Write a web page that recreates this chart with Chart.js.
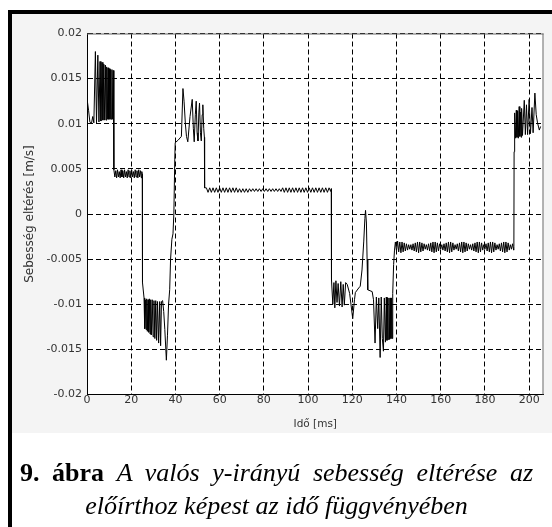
<!DOCTYPE html>
<html>
<head>
<meta charset="utf-8">
<script src="https://cdn.jsdelivr.net/npm/chart.js@4/dist/chart.umd.min.js"></script>
<style>
  html, body { margin: 0; padding: 0; background: #fff; }
  #wrap { position: relative; width: 552px; height: 527px; overflow: hidden; background: #fff; }
  #figbg { position: absolute; left: 12px; top: 14px; width: 540px; height: 419px; background: #f4f4f4; }
  #myChart { position: absolute; left: 0; top: 0; }
  .bar { position: absolute; background: #000; }
  #caption {
    position: absolute; left: 20px; top: 456px; width: 513px;
    font-family: "Liberation Serif", "Times New Roman", serif;
    font-size: 26px; line-height: 33px; color: #000;
  }
  #caption .l1 { display: block; text-align: justify; text-align-last: justify; white-space: normal; }
  #caption .l2 { display: block; text-align: center; white-space: nowrap; }
  #caption i { font-style: italic; }
</style>
</head>
<body>
<div id="wrap">
  <div id="figbg"></div>
  <canvas id="myChart" width="552" height="527"></canvas>
  <div class="bar" style="left:8px;top:10px;width:544px;height:4px;"></div>
  <div class="bar" style="left:8px;top:10px;width:4px;height:517px;"></div>
  <div id="caption"><span class="l1"><b>9. ábra</b> <i>A valós y-irányú sebesség eltérése az</i></span><span class="l2"><i>előírthoz képest az idő függvényében</i></span></div>
</div>
<script>
// time [ms], deviation [m/s], segment by segment
const startBurst = [
  [0.0, 0.0128], [0.7, 0.0115], [1.3, 0.0102], [2.0, 0.0100], [2.6, 0.0108], [3.1, 0.0101],
  [3.8, 0.0180], [4.3, 0.0101], [4.9, 0.0176], [5.4, 0.0102], [5.9, 0.0169], [6.3, 0.0103],
  [6.8, 0.0168], [7.2, 0.0104], [7.6, 0.0166], [8.0, 0.0104], [8.3, 0.0165], [8.6, 0.0104],
  [8.9, 0.0163], [9.2, 0.0105], [9.5, 0.0162], [9.8, 0.0105], [10.1, 0.0161], [10.4, 0.0105],
  [10.7, 0.0160], [11.0, 0.0105], [11.3, 0.0160], [11.6, 0.0105], [11.9, 0.0159], [12.1, 0.0104]
];
const highPlateau = [
  [12.2, 0.0049], [12.6, 0.0041], [13.0, 0.0048], [13.4, 0.0040], [13.8, 0.0049], [14.2, 0.0041],
  [14.6, 0.0047], [15.0, 0.0040], [15.4, 0.0049], [15.8, 0.0041], [16.2, 0.0048], [16.6, 0.0040],
  [17.0, 0.0049], [17.4, 0.0041], [17.8, 0.0047], [18.2, 0.0040], [18.6, 0.0049], [19.0, 0.0041],
  [19.4, 0.0048], [19.8, 0.0040], [20.2, 0.0049], [20.6, 0.0041], [21.0, 0.0047], [21.4, 0.0040],
  [21.8, 0.0049], [22.2, 0.0041], [22.6, 0.0048], [23.0, 0.0040], [23.4, 0.0049], [23.8, 0.0041],
  [24.2, 0.0048], [24.6, 0.0040], [24.8, 0.0047], [25.0, 0.0044]
];
const firstDip = [
  [25.1, -0.0076], [25.8, -0.0093], [26.1, -0.0127], [26.4, -0.0095], [26.7, -0.0128], [27.0, -0.0094],
  [27.3, -0.0130], [27.6, -0.0095], [27.9, -0.0131], [28.2, -0.0094], [28.5, -0.0133], [28.8, -0.0095],
  [29.1, -0.0134], [29.5, -0.0095], [29.9, -0.0136], [30.3, -0.0096], [30.7, -0.0138], [31.1, -0.0096],
  [31.5, -0.0140], [31.9, -0.0097], [32.4, -0.0143], [32.9, -0.0097], [33.3, -0.0146], [33.7, -0.0097],
  [34.2, -0.0096], [34.7, -0.0108], [35.2, -0.0128], [35.9, -0.0162], [36.4, -0.0135], [36.9, -0.0100],
  [37.4, -0.0084], [37.8, -0.0050], [38.4, -0.0028], [38.9, -0.0022], [39.3, 0.0001], [39.7, 0.0060]
];
const secondBurst = [
  [39.9, 0.0079], [41.3, 0.0082], [42.7, 0.0086], [43.4, 0.0139], [43.9, 0.0125], [44.5, 0.0100],
  [45.0, 0.0086], [45.6, 0.0080], [46.6, 0.0108], [47.6, 0.0127], [48.1, 0.0095], [48.5, 0.0080],
  [49.0, 0.0110], [49.4, 0.0125], [49.8, 0.0090], [50.2, 0.0081], [50.6, 0.0112], [50.9, 0.0123],
  [51.3, 0.0090], [51.7, 0.0081], [52.1, 0.0110], [52.4, 0.0121], [52.8, 0.0095], [53.1, 0.0085]
];
const lowPlateau = [
  [53.2, 0.0029], [54.0, 0.0029], [54.75, 0.0024], [55.5, 0.0029], [56.25, 0.0024], [57.0, 0.0029],
  [57.75, 0.0024], [58.5, 0.0029], [59.25, 0.0024], [60.0, 0.0029], [60.75, 0.0024], [61.5, 0.0029],
  [62.25, 0.0024], [63.0, 0.0029], [63.75, 0.0024], [64.5, 0.0029], [65.25, 0.0024], [66.0, 0.0029],
  [66.75, 0.0024], [67.5, 0.0029], [68.25, 0.0024], [69.0, 0.0028], [69.75, 0.0024], [70.5, 0.0028],
  [71.25, 0.0024], [72.0, 0.0028], [72.75, 0.0024], [73.5, 0.0028], [74.25, 0.0025], [75.0, 0.0028],
  [75.75, 0.0025], [76.5, 0.0028], [77.25, 0.0025], [78.0, 0.0028], [78.75, 0.0025], [79.5, 0.0028],
  [80.25, 0.0025], [81.0, 0.0028], [81.75, 0.0025], [82.5, 0.0028], [83.25, 0.0025], [84.0, 0.0028],
  [84.75, 0.0025], [85.5, 0.0028], [86.25, 0.0025], [87.0, 0.0028], [87.75, 0.0025], [88.5, 0.0029],
  [89.25, 0.0024], [90.0, 0.0029], [90.75, 0.0024], [91.5, 0.0029], [92.25, 0.0024], [93.0, 0.0029],
  [93.75, 0.0024], [94.5, 0.0029], [95.25, 0.0024], [96.0, 0.0029], [96.75, 0.0024], [97.5, 0.0029],
  [98.25, 0.0024], [99.0, 0.0029], [99.75, 0.0024], [100.5, 0.0029], [101.25, 0.0024], [102.0, 0.0029],
  [102.75, 0.0024], [103.5, 0.0029], [104.25, 0.0024], [105.0, 0.0029], [105.75, 0.0024], [106.5, 0.0029],
  [107.25, 0.0024], [108.0, 0.0029], [108.75, 0.0024], [109.5, 0.0029], [110.25, 0.0025], [110.5, 0.0028]
];
const secondDip = [
  [110.6, -0.0073], [111.2, -0.0100], [111.7, -0.0076], [112.1, -0.0104], [112.6, -0.0074], [113.1, -0.0098],
  [113.6, -0.0077], [114.2, -0.0102], [114.8, -0.0075], [115.4, -0.0103], [115.9, -0.0078], [116.4, -0.0101],
  [117.0, -0.0076], [117.7, -0.0078], [118.8, -0.0088], [120.2, -0.0116], [121.0, -0.0095], [121.4, -0.0087],
  [122.9, -0.0082], [123.6, -0.0080], [124.4, -0.0062], [125.2, -0.0030], [125.7, -0.0005], [126.0, 0.0004],
  [126.4, -0.0010], [126.7, -0.0050], [127.0, -0.0084], [129.0, -0.0086], [129.6, -0.0095], [130.3, -0.0143],
  [130.9, -0.0092], [131.5, -0.0127], [132.0, -0.0093], [132.6, -0.0159], [133.1, -0.0092], [133.6, -0.0138],
  [134.1, -0.0152], [134.5, -0.0093], [135.0, -0.0142], [135.4, -0.0092], [135.7, -0.0140], [136.0, -0.0093],
  [136.3, -0.0139], [136.6, -0.0093], [136.9, -0.0139], [137.2, -0.0093], [137.5, -0.0138], [137.8, -0.0093],
  [138.1, -0.0138], [138.3, -0.0088], [138.7, -0.0056], [139.1, -0.0040]
];
const negPlateau = [
  [139.5, -0.0031], [140.0, -0.0041], [140.5, -0.0030], [141.0, -0.0042], [141.5, -0.0031], [142.0, -0.0043],
  [142.5, -0.0031], [143.0, -0.0042], [143.5, -0.0032], [144.0, -0.0041], [144.5, -0.0033], [145.0, -0.0040],
  [145.5, -0.0034], [146.0, -0.0039], [146.5, -0.0034], [147.0, -0.0040], [147.5, -0.0033], [148.0, -0.0041],
  [148.5, -0.0032], [149.0, -0.0042], [149.5, -0.0031], [150.0, -0.0043], [150.5, -0.0031], [151.0, -0.0042],
  [151.5, -0.0032], [152.0, -0.0041], [152.5, -0.0033], [153.0, -0.0039], [153.5, -0.0034], [154.0, -0.0040],
  [154.5, -0.0033], [155.0, -0.0041], [155.5, -0.0032], [156.0, -0.0042], [156.5, -0.0031], [157.0, -0.0043],
  [157.5, -0.0031], [158.0, -0.0042], [158.5, -0.0032], [159.0, -0.0041], [159.5, -0.0033], [160.0, -0.0039],
  [160.5, -0.0034], [161.0, -0.0040], [161.5, -0.0033], [162.0, -0.0041], [162.5, -0.0032], [163.0, -0.0042],
  [163.5, -0.0031], [164.0, -0.0043], [164.5, -0.0031], [165.0, -0.0042], [165.5, -0.0032], [166.0, -0.0040],
  [166.5, -0.0034], [167.0, -0.0039], [167.5, -0.0033], [168.0, -0.0041], [168.5, -0.0032], [169.0, -0.0042],
  [169.5, -0.0031], [170.0, -0.0043], [170.5, -0.0031], [171.0, -0.0042], [171.5, -0.0032], [172.0, -0.0041],
  [172.5, -0.0033], [173.0, -0.0039], [173.5, -0.0034], [174.0, -0.0040], [174.5, -0.0033], [175.0, -0.0041],
  [175.5, -0.0032], [176.0, -0.0042], [176.5, -0.0031], [177.0, -0.0043], [177.5, -0.0031], [178.0, -0.0042],
  [178.5, -0.0032], [179.0, -0.0040], [179.5, -0.0034], [180.0, -0.0039], [180.5, -0.0033], [181.0, -0.0041],
  [181.5, -0.0032], [182.0, -0.0042], [182.5, -0.0031], [183.0, -0.0043], [183.5, -0.0031], [184.0, -0.0042],
  [184.5, -0.0032], [185.0, -0.0040], [185.5, -0.0034], [186.0, -0.0039], [186.5, -0.0033], [187.0, -0.0041],
  [187.5, -0.0032], [188.0, -0.0042], [188.5, -0.0031], [189.0, -0.0043], [189.5, -0.0031], [190.0, -0.0042],
  [190.5, -0.0032], [191.0, -0.0040], [191.5, -0.0034], [192.0, -0.0039], [192.5, -0.0033], [193.0, -0.0040]
];
const finalBurst = [
  [193.1, -0.0036], [193.2, 0.0069], [193.3, 0.0082], [193.6, 0.0112], [193.9, 0.0084], [194.2, 0.0115],
  [194.5, 0.0085], [194.8, 0.0114], [195.1, 0.0084], [195.5, 0.0119], [195.8, 0.0086], [196.1, 0.0113],
  [196.4, 0.0085], [196.6, 0.0117], [197.0, 0.0087], [197.8, 0.0126], [198.3, 0.0088], [198.8, 0.0121],
  [199.3, 0.0088], [200.0, 0.0127], [200.6, 0.0089], [201.3, 0.0118], [201.8, 0.0090], [202.6, 0.0134],
  [203.2, 0.0110], [203.8, 0.0101], [204.6, 0.0093], [205.2, 0.0097]
];

const xTicks = [0, 20, 40, 60, 80, 100, 120, 140, 160, 180, 200];
const yTicks = [-0.02, -0.015, -0.01, -0.005, 0, 0.005, 0.01, 0.015, 0.02];

const series = [].concat(startBurst, highPlateau, firstDip, secondBurst,
  lowPlateau, secondDip, negPlateau, finalBurst).map(p => ({ x: p[0], y: p[1] }));

const tickFont = { family: 'DejaVu Sans', size: 11 };

// white axes box + thin grey top/right edges
const plotFrame = {
  id: 'plotFrame',
  beforeDraw(chart) {
    const a = chart.chartArea;
    const c = chart.ctx;
    c.save();
    c.fillStyle = '#fff';
    c.fillRect(a.left, a.top, a.right - a.left, a.bottom - a.top);
    c.restore();
  },
  afterDraw(chart) {
    const a = chart.chartArea;
    const c = chart.ctx;
    c.save();
    c.strokeStyle = '#666';
    c.lineWidth = 1;
    c.beginPath();
    c.moveTo(a.left, a.top + 0.5);
    c.lineTo(a.right, a.top + 0.5);
    c.moveTo(a.right - 0.5, a.top);
    c.lineTo(a.right - 0.5, a.bottom);
    c.stroke();
    c.restore();
  }
};

const ctx = document.getElementById('myChart');
new Chart(ctx, {
  type: 'line',
  data: {
    datasets: [{
      data: series,
      borderColor: '#000',
      borderWidth: 1,
      pointRadius: 0,
      tension: 0,
      fill: false
    }]
  },
  plugins: [plotFrame],
  options: {
    responsive: false,
    animation: false,
    layout: { padding: { left: 0, top: 33.5, right: 8.5, bottom: 92.5 } },
    plugins: { legend: { display: false }, tooltip: { enabled: false } },
    scales: {
      x: {
        type: 'linear',
        min: 0,
        max: 206.5,
        afterBuildTicks: s => { s.ticks = xTicks.map(v => ({ value: v })); },
        afterFit: s => { s.height = 40; },
        grid: { color: '#000', lineWidth: 1, drawTicks: false },
        border: { display: true, color: '#000', dash: [5, 3] },
        ticks: { color: '#333', font: tickFont, padding: -1, maxRotation: 0 },
        title: {
          display: true, text: 'Idő [ms]', color: '#333',
          font: { family: 'DejaVu Sans', size: 10.5 }, padding: { top: 0, bottom: 4 }
        }
      },
      y: {
        type: 'linear',
        min: -0.02,
        max: 0.02,
        afterBuildTicks: s => { s.ticks = yTicks.map(v => ({ value: v })); },
        afterFit: s => { s.width = 87; },
        grid: { color: '#000', lineWidth: 1, drawTicks: false },
        border: { display: true, color: '#000', dash: [5, 3] },
        ticks: {
          color: '#333', font: tickFont, padding: 5,
          callback: v => String(Number(v.toFixed(3)))
        },
        title: {
          display: true, text: 'Sebesség eltérés [m/s]', color: '#333',
          font: { family: 'DejaVu Sans', size: 12 }, padding: { top: 23, bottom: 0 }
        }
      }
    }
  }
});
</script>
</body>
</html>
